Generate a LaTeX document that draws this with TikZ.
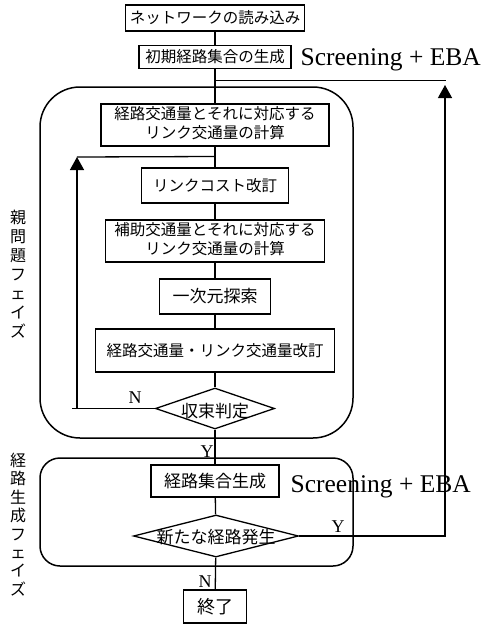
\documentclass[tikz,border=0pt]{standalone}
\usepackage{fontspec}
\setmainfont{Liberation Serif}
\newfontfamily\jp{Noto Sans CJK JP}
\usetikzlibrary{arrows.meta,shapes.geometric}
\newcommand{\dtxt}[2]{\makebox[0pt]{\raisebox{#1}{#2}}}
\begin{document}
\begin{tikzpicture}[x=1pt,y=-1pt,line width=1.3pt,
  box/.style={draw,rectangle,inner sep=0pt,font=\jp\fontsize{15.5}{18}\selectfont},
  bigbox/.style={box,font=\jp\fontsize{17}{20}\selectfont},
  dia/.style={draw,diamond,inner sep=0pt,text height=0pt,text depth=0pt,font=\jp\fontsize{17}{20}\selectfont},
  phase/.style={draw,line width=1.5pt},
  yn/.style={font=\fontsize{18}{20}\selectfont,inner sep=0pt},
  eba/.style={font=\fontsize{25.5}{28}\selectfont,inner sep=0pt,anchor=base west},
  vlab/.style={font=\jp\fontsize{16}{19}\selectfont,align=center,inner sep=0pt},
  arr/.style={-{Triangle[width=14pt,length=13pt]}}
]
\useasboundingbox (0,0) rectangle (488,624);
% phase frames
\draw[phase,rounded corners=40pt] (40,87) rectangle (353,438);
\draw[phase,rounded corners=20pt] (40,458) rectangle (353,566);
% boxes
\node[box,minimum width=179pt,minimum height=26pt] (n1) at (215,18) {ネットワークの読み込み};
\node[box,minimum width=152pt,minimum height=23pt] (n2) at (215,57) {初期経路集合の生成};
\node[box,minimum width=228pt,minimum height=42pt] (n3) at (215,125)
  {\raisebox{-5pt}{\begin{tabular}{@{}c@{}}経路交通量とそれに対応する\\リンク交通量の計算\end{tabular}}};
\node[box,minimum width=147pt,minimum height=35pt] (n4) at (215,185.5) {リンクコスト改訂};
\node[box,minimum width=219pt,minimum height=42pt] (n5) at (215,241)
  {\raisebox{-5pt}{\begin{tabular}{@{}c@{}}補助交通量とそれに対応する\\リンク交通量の計算\end{tabular}}};
\node[bigbox,minimum width=111pt,minimum height=35pt] (n6) at (215,296.5) {一次元探索};
\node[box,minimum width=239pt,minimum height=43pt] (n7) at (215,350.5) {経路交通量・リンク交通量改訂};
\node[dia,minimum width=119pt,minimum height=41pt] (d1) at (215,408.5) {\dtxt{-9pt}{収束判定}};
\node[bigbox,minimum width=128pt,minimum height=32pt] (n8) at (215,481) {経路集合生成};
\node[dia,minimum width=165pt,minimum height=42pt] (d2) at (216,536) {\dtxt{-7pt}{新たな経路発生}};
\node[bigbox,minimum width=63pt,minimum height=33pt,font=\jp\fontsize{18}{20}\selectfont] (n9) at (215,606.5) {終了};
% side texts
\node[eba] (e1) at (300,65) {Screening + EBA};
\node[eba] (e2) at (290,492) {Screening + EBA};
\node[vlab] (p1) at (18,274) {親\\問\\題\\フ\\ェ\\イ\\ズ};
\node[vlab,font=\jp\fontsize{16}{18.4}\selectfont] (p2) at (18,524.5) {経\\路\\生\\成\\フ\\ェ\\イ\\ズ};
% labels
\node[yn] (N1) at (135,398) {N};
\node[yn] (Y1) at (207,452) {Y};
\node[yn] (Y2) at (338,527) {Y};
\node[yn] (N2) at (205,582) {N};
% main flow
\draw (n1) -- (n2);
\draw (n2) -- (n3);
\draw (n3) -- (n4);
\draw (n4) -- (n5);
\draw (n5) -- (n6);
\draw (n6) -- (n7);
\draw (n7) -- (d1);
\draw (d1) -- (n8);
\draw (n8) -- (d2);
\draw (d2) -- (n9);
% outer loop
\coordinate (j1) at (215,80.5);
\coordinate (c1) at (446,80.5);
\coordinate (c2) at (445,536);
\coordinate (c3) at (445,85);
\draw (j1) -- (c1);
\draw[arr] (d2.east) -- (c2) -- (c3);
% inner loop
\coordinate (l1) at (72,408.5);
\coordinate (l0) at (77,408.5);
\coordinate (l2) at (77,157);
\coordinate (l3) at (215,156.5);
\draw (d1.west) -- (l1);
\draw[arr] (l0) -- (l2);
\draw (l2) -- (l3);
\end{tikzpicture}
\end{document}
